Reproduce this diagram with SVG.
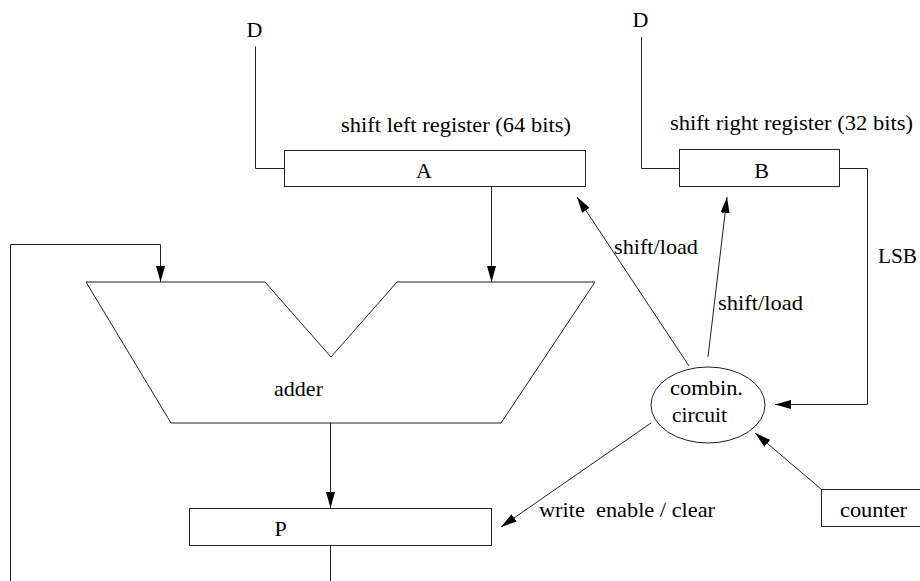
<svg xmlns="http://www.w3.org/2000/svg" width="920" height="581" viewBox="0 0 920 581">
<style>
.s{fill:none;stroke:#222;stroke-width:1}
.b{fill:#fff;stroke:#222;stroke-width:1}
.t{font-family:"Liberation Serif","Times New Roman",serif;font-size:22px;fill:#000}
.m{text-anchor:middle}
</style>
<defs>
<marker id="ah" viewBox="0 0 16 9" refX="16" refY="4.5" markerWidth="16" markerHeight="9" markerUnits="userSpaceOnUse" orient="auto">
<path d="M0,0 L16,4.5 L0,9 z" fill="#000"/>
</marker>
</defs>
<g id="connectors">
<polyline class="s" points="255.5,46.5 255.5,168.5 284,168.5"/>
<polyline class="s" points="641.5,37 641.5,168.5 679,168.5"/>
<line class="s" x1="491.5" y1="187" x2="491.5" y2="282" marker-end="url(#ah)"/>
<polyline class="s" points="330.5,546 330.5,581"/>
<polyline class="s" points="10.5,581 10.5,244.5 160.5,244.5 160.5,282" marker-end="url(#ah)"/>
<line class="s" x1="330.5" y1="423" x2="330.5" y2="508" marker-end="url(#ah)"/>
<polyline class="s" points="839,168.5 867.5,168.5 867.5,404.5 775,404.5" marker-end="url(#ah)"/>
<line class="s" x1="689" y1="366" x2="577" y2="197" marker-end="url(#ah)"/>
<line class="s" x1="708" y1="357" x2="727" y2="197" marker-end="url(#ah)"/>
<line class="s" x1="651" y1="423" x2="501" y2="527" marker-end="url(#ah)"/>
<line class="s" x1="821" y1="489" x2="755" y2="433" marker-end="url(#ah)"/>
<text class="t" x="614" y="254" textLength="84" lengthAdjust="spacingAndGlyphs">shift/load</text>
<text class="t" x="718" y="310" textLength="85" lengthAdjust="spacingAndGlyphs">shift/load</text>
<text class="t" x="878" y="263" textLength="39" lengthAdjust="spacingAndGlyphs">LSB</text>
<text class="t" x="539" y="517" textLength="176" lengthAdjust="spacingAndGlyphs" xml:space="preserve">write  enable / clear</text>
</g>
<g id="inputD1"><text class="t m" x="254.5" y="37">D</text></g>
<g id="inputD2"><text class="t m" x="640.5" y="27">D</text></g>
<g id="regA">
<text class="t" x="341" y="132" textLength="230" lengthAdjust="spacingAndGlyphs">shift left register (64 bits)</text>
<rect class="b" x="284.5" y="150.5" width="301" height="36"/>
<text class="t m" x="424" y="178">A</text>
</g>
<g id="regB">
<text class="t" x="670" y="130" textLength="243" lengthAdjust="spacingAndGlyphs">shift right register (32 bits)</text>
<rect class="b" x="679.5" y="149.5" width="160" height="37"/>
<text class="t m" x="761.5" y="178">B</text>
</g>
<g id="adder">
<polygon class="b" points="86,282 265,282 331,357 397,282 595,282 501,423 171,423"/>
<text class="t" x="274" y="396" textLength="49" lengthAdjust="spacingAndGlyphs">adder</text>
</g>
<g id="regP">
<rect class="b" x="189.5" y="508.5" width="302" height="37"/>
<text class="t m" x="280.5" y="536">P</text>
</g>
<g id="combin">
<ellipse class="b" cx="708" cy="405" rx="57" ry="38"/>
<text class="t" x="670" y="395" textLength="73" lengthAdjust="spacingAndGlyphs">combin.</text>
<text class="t" x="672" y="422" textLength="55" lengthAdjust="spacingAndGlyphs">circuit</text>
</g>
<g id="counter">
<rect class="b" x="821.5" y="489.5" width="110" height="37"/>
<text class="t" x="840" y="517" textLength="67" lengthAdjust="spacingAndGlyphs">counter</text>
</g>
</svg>
